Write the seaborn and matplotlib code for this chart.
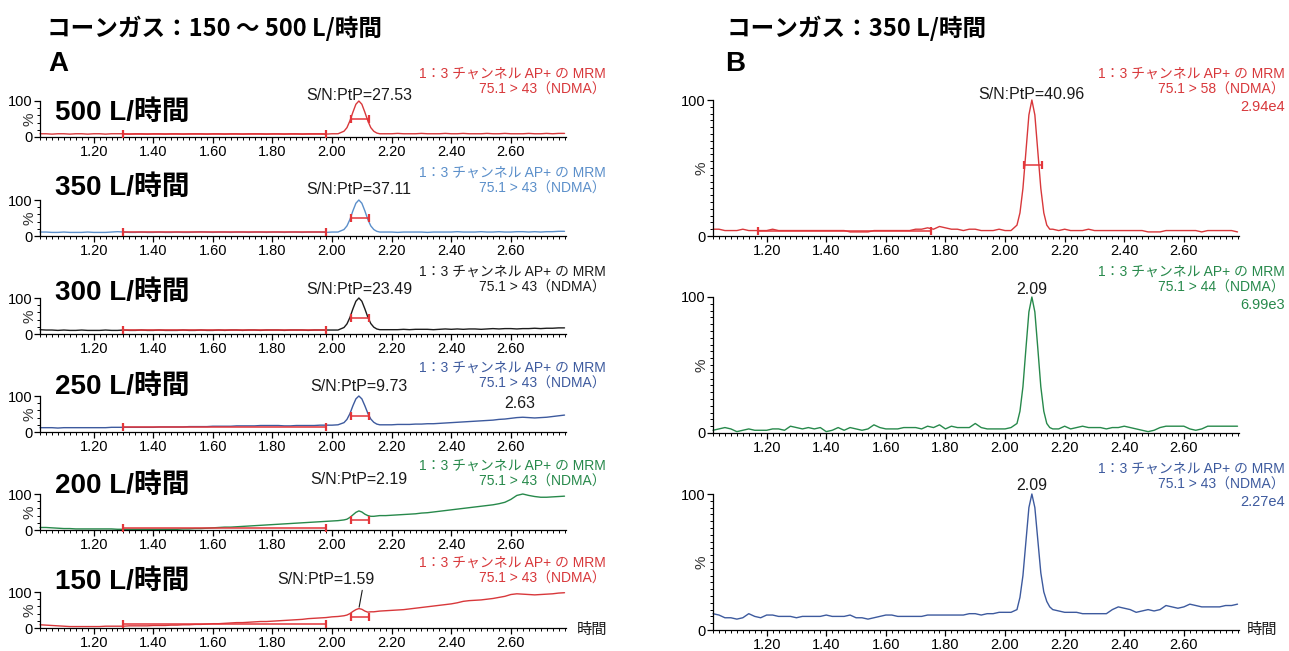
import numpy as np
import pandas as pd
import matplotlib
matplotlib.use("Agg")
import matplotlib.pyplot as plt
import seaborn as sns
from matplotlib.ticker import MultipleLocator

sns.set_theme(style="ticks")
plt.rcParams['font.family'] = ['Liberation Sans', 'Noto Sans CJK JP']
plt.rcParams['axes.unicode_minus'] = False

# ---------------------------------------------------------------- data
# retention time grid (min): 0.02 steps on the baseline, 0.01 steps across the peak
TIME = [
    1.02, 1.04, 1.06, 1.08, 1.10, 1.12, 1.14, 1.16, 1.18, 1.20,
    1.22, 1.24, 1.26, 1.28, 1.30, 1.32, 1.34, 1.36, 1.38, 1.40,
    1.42, 1.44, 1.46, 1.48, 1.50, 1.52, 1.54, 1.56, 1.58, 1.60,
    1.62, 1.64, 1.66, 1.68, 1.70, 1.72, 1.74, 1.76, 1.78, 1.80,
    1.82, 1.84, 1.86, 1.88, 1.90, 1.92, 1.94, 1.96, 1.98, 2.00,
    2.02, 2.04,
    2.05, 2.06, 2.07, 2.08, 2.09, 2.10, 2.11, 2.12, 2.13, 2.14, 2.15,
    2.16, 2.18, 2.20, 2.22, 2.24, 2.26, 2.28, 2.30, 2.32, 2.34,
    2.36, 2.38, 2.40, 2.42, 2.44, 2.46, 2.48, 2.50, 2.52, 2.54,
    2.56, 2.58, 2.60, 2.62, 2.64, 2.66, 2.68, 2.70, 2.72, 2.74,
    2.76, 2.78,
]

# relative intensity (%) for cone gas 500 / 350 / 300 / 250 / 200 / 150 L/h, m/z 75.1 > 43
CONE_500 = [
    9, 9, 8, 9, 9, 8, 9, 9, 8, 9,
    9, 8, 9, 9, 9, 8, 9, 9, 8, 9,
    9, 8, 9, 9, 8, 9, 9, 9, 8, 9,
    9, 8, 9, 9, 8, 9, 9, 9, 8, 9,
    9, 8, 9, 9, 8, 9, 9, 9, 8, 9,
    9, 16,
    26, 45, 69, 91, 100, 91, 69, 45, 26, 16, 11,
    9, 9, 9, 10, 9, 9, 9, 10, 9, 9,
    9, 10, 9, 9, 10, 9, 9, 9, 10, 9,
    9, 10, 9, 9, 9, 10, 9, 9, 10, 9,
    10, 10,
]
CONE_350 = [
    11, 11, 10, 10, 11, 10, 10, 10, 11, 10,
    10, 10, 11, 12, 11, 10, 10, 11, 10, 10,
    11, 10, 10, 11, 10, 10, 11, 12, 11, 10,
    11, 11, 10, 11, 11, 10, 11, 11, 10, 11,
    11, 10, 11, 11, 10, 11, 11, 11, 10, 11,
    11, 18,
    28, 46, 70, 91, 100, 91, 70, 46, 28, 18, 13,
    11, 11, 11, 10, 11, 11, 11, 11, 10, 11,
    11, 11, 11, 12, 11, 11, 11, 12, 11, 11,
    12, 11, 11, 12, 12, 11, 12, 11, 12, 12,
    13, 13,
]
CONE_300 = [
    12, 11, 11, 10, 11, 10, 10, 11, 10, 10,
    10, 11, 10, 10, 11, 10, 10, 11, 10, 10,
    11, 10, 10, 10, 11, 10, 10, 11, 10, 10,
    11, 10, 11, 11, 10, 11, 11, 10, 11, 11,
    11, 10, 11, 11, 11, 10, 11, 11, 11, 11,
    11, 18,
    28, 46, 70, 91, 100, 91, 70, 47, 29, 19, 14,
    12, 12, 12, 12, 13, 12, 13, 13, 13, 12,
    13, 14, 13, 14, 13, 14, 14, 13, 14, 15,
    14, 15, 15, 14, 15, 15, 16, 15, 16, 16,
    17, 17,
]
CONE_250 = [
    12, 12, 12, 11, 12, 12, 12, 12, 12, 12,
    12, 12, 13, 13, 13, 13, 13, 13, 13, 13,
    14, 14, 14, 14, 14, 15, 15, 15, 15, 16,
    16, 16, 16, 17, 17, 17, 17, 18, 18, 18,
    18, 17, 17, 18, 18, 18, 18, 19, 19, 19,
    20, 26,
    35, 51, 73, 92, 100, 92, 73, 52, 36, 27, 22,
    20, 20, 20, 21, 21, 21, 22, 22, 23, 23,
    24, 25, 26, 27, 28, 29, 30, 31, 32, 33,
    35, 36, 38, 40, 41, 40, 39, 40, 41, 43,
    45, 47,
]
CONE_200 = [
    7, 7, 6, 5, 4, 4, 3, 3, 3, 3,
    3, 3, 3, 2, 2, 2, 2, 2, 2, 2,
    2, 2, 2, 2, 3, 3, 4, 4, 5, 6,
    7, 8, 8, 9, 10, 11, 12, 13, 14, 15,
    16, 17, 18, 19, 20, 21, 22, 23, 24, 25,
    26, 28,
    30, 35, 42, 49, 53, 50, 44, 40, 38, 38, 39,
    40, 40, 41, 42, 43, 44, 45, 47, 48, 50,
    52, 54, 56, 58, 60, 62, 64, 66, 68, 70,
    73, 77, 85, 96, 100, 96, 93, 91, 91, 92,
    93, 94,
]
CONE_150 = [
    9, 8, 7, 6, 5, 4, 4, 4, 4, 4,
    4, 5, 5, 5, 5, 6, 6, 6, 6, 7,
    7, 7, 8, 8, 9, 9, 10, 10, 11, 12,
    12, 13, 14, 15, 15, 16, 17, 18, 18, 19,
    20, 21, 22, 23, 24, 26, 27, 28, 29, 31,
    32, 34,
    36, 40, 46, 51, 54, 52, 47, 44, 45, 45, 46,
    47, 48, 49, 50, 51, 53, 55, 57, 59, 61,
    63, 65, 67, 70, 74, 76, 77, 78, 80, 82,
    85, 88, 93, 95, 94, 93, 92, 93, 94, 95,
    97, 98,
]

# cone gas 350 L/h, three transitions
MRM_58 = [
    5, 5, 4, 4, 4, 5, 4, 4, 4, 4,
    5, 4, 4, 4, 4, 4, 4, 4, 4, 4,
    4, 4, 4, 3, 3, 3, 3, 4, 4, 4,
    4, 4, 4, 4, 5, 5, 6, 5, 7, 6,
    5, 5, 4, 5, 5, 4, 4, 4, 5, 4,
    4, 8,
    17, 35, 62, 89, 100, 89, 62, 35, 17, 8, 5,
    5, 4, 5, 4, 4, 4, 5, 4, 4, 4,
    4, 4, 4, 4, 4, 4, 3, 3, 3, 4,
    4, 4, 4, 4, 4, 3, 4, 4, 4, 4,
    4, 3,
]
MRM_44 = [
    2, 3, 4, 3, 1, 2, 3, 2, 2, 2,
    3, 3, 2, 5, 4, 3, 4, 3, 4, 1,
    2, 4, 2, 4, 3, 2, 3, 6, 4, 3,
    3, 3, 4, 4, 4, 3, 5, 4, 6, 3,
    5, 4, 4, 4, 7, 4, 3, 3, 3, 3,
    4, 7,
    16, 34, 62, 89, 100, 89, 62, 34, 16, 7, 4,
    3, 3, 5, 3, 4, 5, 4, 4, 4, 3,
    4, 4, 5, 4, 3, 2, 1, 2, 4, 5,
    5, 5, 5, 3, 2, 3, 5, 5, 5, 5,
    5, 5,
]
MRM_43 = [
    12, 11, 9, 9, 8, 9, 12, 10, 9, 11,
    11, 10, 10, 10, 9, 10, 10, 10, 10, 11,
    10, 10, 10, 11, 9, 9, 8, 9, 10, 11,
    11, 10, 10, 10, 10, 10, 11, 11, 11, 11,
    11, 11, 11, 12, 12, 11, 12, 12, 13, 13,
    13, 15,
    24, 40, 65, 90, 100, 90, 66, 42, 28, 21, 17,
    15, 14, 13, 13, 13, 12, 12, 12, 12, 12,
    15, 17, 16, 15, 13, 14, 15, 14, 15, 18,
    17, 16, 17, 19, 18, 17, 17, 17, 17, 18,
    18, 19,
]

LEFT_SERIES = [CONE_500, CONE_350, CONE_300, CONE_250, CONE_200, CONE_150]
LEFT_FLOWS = ["500 L/時間", "350 L/時間", "300 L/時間", "250 L/時間", "200 L/時間", "150 L/時間"]
LEFT_SN = ["S/N:PtP=27.53", "S/N:PtP=37.11", "S/N:PtP=23.49",
           "S/N:PtP=9.73", "S/N:PtP=2.19", "S/N:PtP=1.59"]
LEFT_TRANSITION = "75.1 > 43（NDMA）"

RIGHT_SERIES = [MRM_58, MRM_44, MRM_43]
RIGHT_TRANSITIONS = ["75.1 > 58（NDMA）", "75.1 > 44（NDMA）", "75.1 > 43（NDMA）"]
RIGHT_INTENSITY = ["2.94e4", "6.99e3", "2.27e4"]
RIGHT_PEAK_LABELS = ["S/N:PtP=40.96", "2.09", "2.09"]

CHANNEL = "1：3 チャンネル AP+ の MRM"
PEAK_RT = 2.09
SECOND_RT = 2.63          # labelled late maximum in the 250 L/h trace
LEFT_NOISE_WINDOW = (1.30, 1.98)
RIGHT_NOISE_WINDOW = (1.17, 1.75)
PEAK_WINDOW = (2.065, 2.125)
LEFT_NOISE_LEVEL = [9, 10, 10, 13, 5, 10]
LEFT_PEAK_LEVEL = [50, 50, 45, 45, 27, 31]
RIGHT_NOISE_LEVEL = 4
RIGHT_PEAK_LEVEL = 52

X_TICKS = [1.20, 1.40, 1.60, 1.80, 2.00, 2.20, 2.40, 2.60]
X_MIN, X_MAX = 1.02, 2.785

# ---------------------------------------------------------------- styling
RED = "#d8383b"
LIGHT_BLUE = "#5b8fca"
BLACK = "#1c1c1c"
DARK_BLUE = "#3d5a9e"
GREEN = "#27894b"
MARK = "#e3363a"
LEFT_COLORS = [RED, LIGHT_BLUE, BLACK, DARK_BLUE, GREEN, RED]
RIGHT_COLORS = [RED, GREEN, DARK_BLUE]

W, H, DPI = 1289, 651, 100
fig = plt.figure(figsize=(W / DPI, H / DPI), dpi=DPI)
fig.patch.set_facecolor("white")

LEFT_X, RIGHT_X, AX_W = 40, 713, 526
LEFT_TOPS, LEFT_H = [101, 200, 298, 396, 494, 592], 36
RIGHT_TOPS, RIGHT_H = [100, 297, 494], 136
FLOW_LABEL_Y = [113, 188, 293, 387, 486, 582]
LEFT_CH_Y = [74, 173, 272, 368, 466, 563]
RIGHT_CH_Y = [74, 272, 469]
LEFT_SN_OFFSET = [1, 6, 4, 5, 10, 6]      # px above the axes top
RIGHT_LABEL_OFFSET = [1, 3, 4]

PT = 72 / DPI  # points per pixel


def axes_px(left, top, width, height):
    return fig.add_axes([left / W, 1 - (top + height) / H, width / W, height / H])


def fig_text(x, y, s, **kw):
    return fig.text(x / W, 1 - y / H, s, **kw)


def style_axes(ax, y_minor, ylabel_x):
    ax.set_xlim(X_MIN, X_MAX)
    ax.set_ylim(0, 100)
    sns.despine(ax=ax)
    ax.set_facecolor("none")
    ax.set_xticks(X_TICKS)
    ax.set_xticklabels([f"{t:.2f}" for t in X_TICKS])
    ax.xaxis.set_minor_locator(MultipleLocator(0.02))
    ax.set_yticks([0, 100])
    ax.set_yticklabels(["0", "100"])
    ax.yaxis.set_minor_locator(MultipleLocator(y_minor))
    ax.tick_params(which="major", direction="out", length=4, width=0.9,
                   labelsize=10.5, pad=1.5, colors="black")
    ax.tick_params(which="minor", direction="out", length=2.2, width=0.7, colors="black")
    for s in ("left", "bottom"):
        ax.spines[s].set_linewidth(0.9)
        ax.spines[s].set_color("black")
    ax.set_xlabel("")
    ax.set_ylabel("%", fontsize=11, color="#333333")
    ax.yaxis.set_label_coords(ylabel_x, 0.5)


def draw_trace(ax, values, color):
    df = pd.DataFrame({"time": TIME, "intensity": values})
    sns.lineplot(data=df, x="time", y="intensity", ax=ax, color=color,
                 lw=1.0, estimator=None, sort=False, legend=False)
    for ln in ax.lines:
        ln.set_clip_on(False)


def draw_window(ax, window, level):
    ax.plot(window, [level, level], color=MARK, lw=1.1, clip_on=False, zorder=4)
    ax.plot(window, [level, level], ls="none", marker="|", ms=6, mew=1.6,
            color=MARK, clip_on=False, zorder=4)


# ---------------------------------------------------------------- panel A
for i, vals in enumerate(LEFT_SERIES):
    ax = axes_px(LEFT_X, LEFT_TOPS[i], AX_W, LEFT_H)
    draw_trace(ax, vals, LEFT_COLORS[i])
    style_axes(ax, 20, -0.006)
    draw_window(ax, LEFT_NOISE_WINDOW, LEFT_NOISE_LEVEL[i])
    draw_window(ax, PEAK_WINDOW, LEFT_PEAK_LEVEL[i])

    if i == 5:
        apex = vals[TIME.index(PEAK_RT)]
        ax.annotate(LEFT_SN[i], xy=(PEAK_RT, apex), xycoords="data",
                    xytext=(-33 * PT, 29 * PT), textcoords="offset points",
                    ha="center", va="center", fontsize=11.5, color="#1a1a1a",
                    arrowprops=dict(arrowstyle="-", color="#1a1a1a", lw=0.8,
                                    relpos=(0.88, 0.0), shrinkA=0, shrinkB=1))
    else:
        ax.annotate(LEFT_SN[i], xy=(PEAK_RT, 1.0), xycoords=("data", "axes fraction"),
                    xytext=(0, LEFT_SN_OFFSET[i] * PT), textcoords="offset points",
                    ha="center", va="baseline", fontsize=11.5, color="#1a1a1a",
                    annotation_clip=False)
    if i == 3:
        level = vals[TIME.index(2.64)]
        ax.annotate(f"{SECOND_RT:.2f}", xy=(SECOND_RT, level), xycoords="data",
                    xytext=(0, 6 * PT), textcoords="offset points",
                    ha="center", va="bottom", fontsize=11.5, color="#1a1a1a")

    fig_text(55, FLOW_LABEL_Y[i], LEFT_FLOWS[i], fontsize=20, fontweight="bold",
             ha="left", va="center", color="black")
    fig_text(606, LEFT_CH_Y[i], CHANNEL, fontsize=10, ha="right", va="center",
             color=LEFT_COLORS[i])
    fig_text(606, LEFT_CH_Y[i] + 16, LEFT_TRANSITION, fontsize=10, ha="right",
             va="center", color=LEFT_COLORS[i])

fig_text(592, 630, "時間", fontsize=11, ha="center", va="center", color="#1a1a1a")

# ---------------------------------------------------------------- panel B
for i, vals in enumerate(RIGHT_SERIES):
    ax = axes_px(RIGHT_X, RIGHT_TOPS[i], AX_W, RIGHT_H)
    draw_trace(ax, vals, RIGHT_COLORS[i])
    style_axes(ax, 5, -0.008)
    if i == 0:
        draw_window(ax, RIGHT_NOISE_WINDOW, RIGHT_NOISE_LEVEL)
        draw_window(ax, PEAK_WINDOW, RIGHT_PEAK_LEVEL)
    ax.annotate(RIGHT_PEAK_LABELS[i], xy=(PEAK_RT, 1.0), xycoords=("data", "axes fraction"),
                xytext=(0, RIGHT_LABEL_OFFSET[i] * PT), textcoords="offset points",
                ha="center", va="baseline", fontsize=11.5, color="#1a1a1a",
                annotation_clip=False)
    c = RIGHT_COLORS[i]
    fig_text(1285, RIGHT_CH_Y[i], CHANNEL, fontsize=10, ha="right", va="center", color=c)
    fig_text(1285, RIGHT_CH_Y[i] + 16, RIGHT_TRANSITIONS[i], fontsize=10, ha="right",
             va="center", color=c)
    fig_text(1285, RIGHT_CH_Y[i] + 33, RIGHT_INTENSITY[i], fontsize=10.5, ha="right",
             va="center", color=c)

fig_text(1262, 630, "時間", fontsize=11, ha="center", va="center", color="#1a1a1a")

# ---------------------------------------------------------------- headings
fig_text(47, 28, "コーンガス：150 ～ 500 L/時間", fontsize=17, fontweight="bold",
         family=["Noto Sans CJK JP"], ha="left", va="center", color="black")
fig_text(727, 28, "コーンガス：350 L/時間", fontsize=17, fontweight="bold",
         family=["Noto Sans CJK JP"], ha="left", va="center", color="black")
fig_text(48, 64, "A", fontsize=20, fontweight="bold", ha="left", va="center", color="black")
fig_text(725, 64, "B", fontsize=20, fontweight="bold", ha="left", va="center", color="black")

fig.savefig("out.png", dpi=DPI, facecolor="white")
